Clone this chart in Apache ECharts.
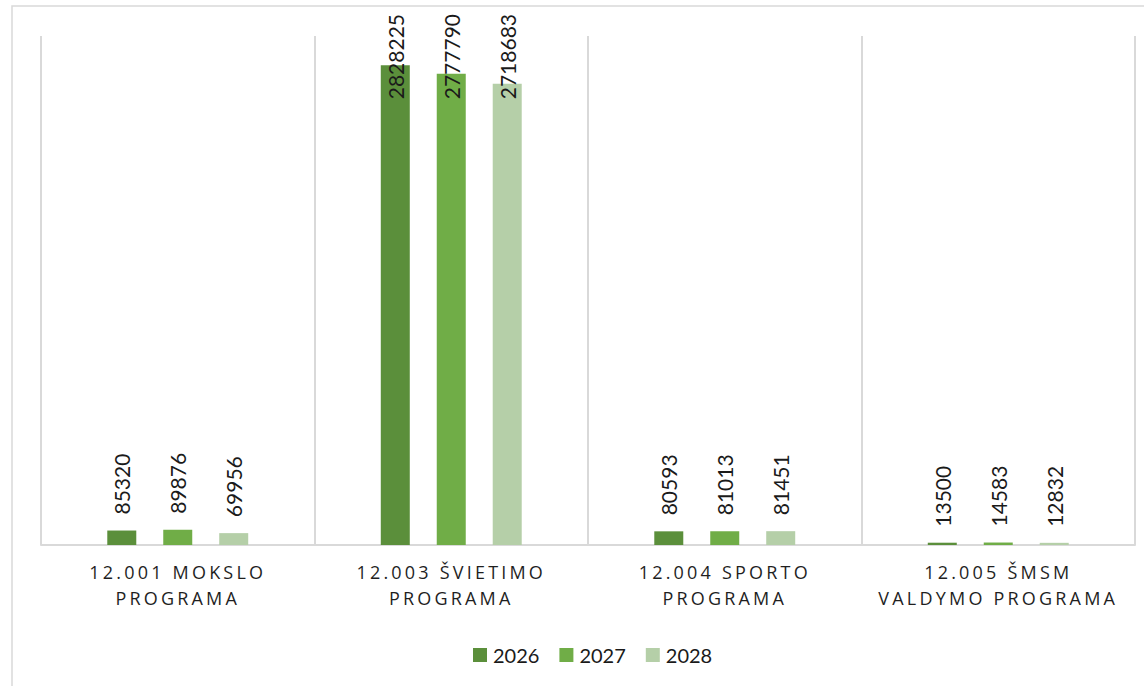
<!DOCTYPE html>
<html>
<head>
<meta charset="utf-8">
<script src="https://cdn.jsdelivr.net/npm/echarts@6/dist/echarts.min.js"></script>
<style>
  html, body { margin: 0; padding: 0; background: #fff; }
  #chart { width: 1144px; height: 686px; }
  /* category labels are letter-spaced like the original */
  #chart text[style*="Open Sans"] { letter-spacing: 3.2px; }
</style>
</head>
<body>
<div id="chart"></div>
<script>
const categories = [
  '12.001 MOKSLO PROGRAMA',
  '12.003 ŠVIETIMO PROGRAMA',
  '12.004 SPORTO PROGRAMA',
  '12.005 ŠMSM VALDYMO PROGRAMA'
]
const years = ['2026', '2027', '2028']
const values2026 = [85320, 2828225, 80593, 13500]
const values2027 = [89876, 2777790, 81013, 14583]
const values2028 = [69956, 2718683, 81451, 12832]
const colors = ['#5b8f3b', '#70ad47', '#b5cfa8']

const chart = echarts.init(document.getElementById('chart'), null, { renderer: 'svg' })

const seriesData = [values2026, values2027, values2028]

chart.setOption({
  animation: false,
  color: colors,
  graphic: [{
    type: 'rect',
    shape: { x: 12, y: 6, width: 1150, height: 700 },
    style: { fill: 'none', stroke: '#d9d9d9', lineWidth: 1.5 },
    silent: true
  }],
  grid: { left: 41, right: 9, top: 36, bottom: 141 },
  legend: {
    top: 640,
    left: 468,
    itemWidth: 14,
    itemHeight: 14,
    itemGap: 20,
    icon: 'rect',
    textStyle: { fontFamily: 'Lato', fontSize: 20, color: '#1a1a1a', padding: [0, 0, 0, 1] },
    data: years
  },
  xAxis: {
    type: 'category',
    data: categories,
    boundaryGap: true,
    axisLine: { lineStyle: { color: '#d9d9d9', width: 2 } },
    axisTick: { show: false },
    splitLine: { show: true, lineStyle: { color: '#d9d9d9', width: 2 } },
    axisLabel: {
      interval: 0,
      margin: 14,
      fontFamily: 'Open Sans',
      fontSize: 18,
      lineHeight: 26,
      color: '#1f1f1f',
      formatter: function (s) {
        const w = s.split(' ')
        return w.slice(0, 2).join(' ') + '\n' + w.slice(2).join(' ')
      }
    }
  },
  yAxis: {
    type: 'value',
    min: 0,
    max: 3000000,
    show: false,
    splitLine: { show: false }
  },
  labelLayout: function (p) {
    // keep labels of the tall bars inside the chart, like Excel does
    // (offset runs along the rotated text, so dx moves it up/down)
    const r = p.labelRect
    return r.y < 14 ? { dx: r.y - 14 } : {}
  },
  series: years.map(function (y, i) {
    return {
      name: y,
      type: 'bar',
      data: seriesData[i],
      barWidth: 29,
      barGap: '93%',
      label: {
        show: true,
        position: 'top',
        rotate: 90,
        align: 'left',
        verticalAlign: 'middle',
        distance: 16,
        fontFamily: 'Liberation Sans Narrow, Lato',
        fontSize: 21,
        color: '#1a1a1a'
      }
    }
  })
})
</script>
</body>
</html>
